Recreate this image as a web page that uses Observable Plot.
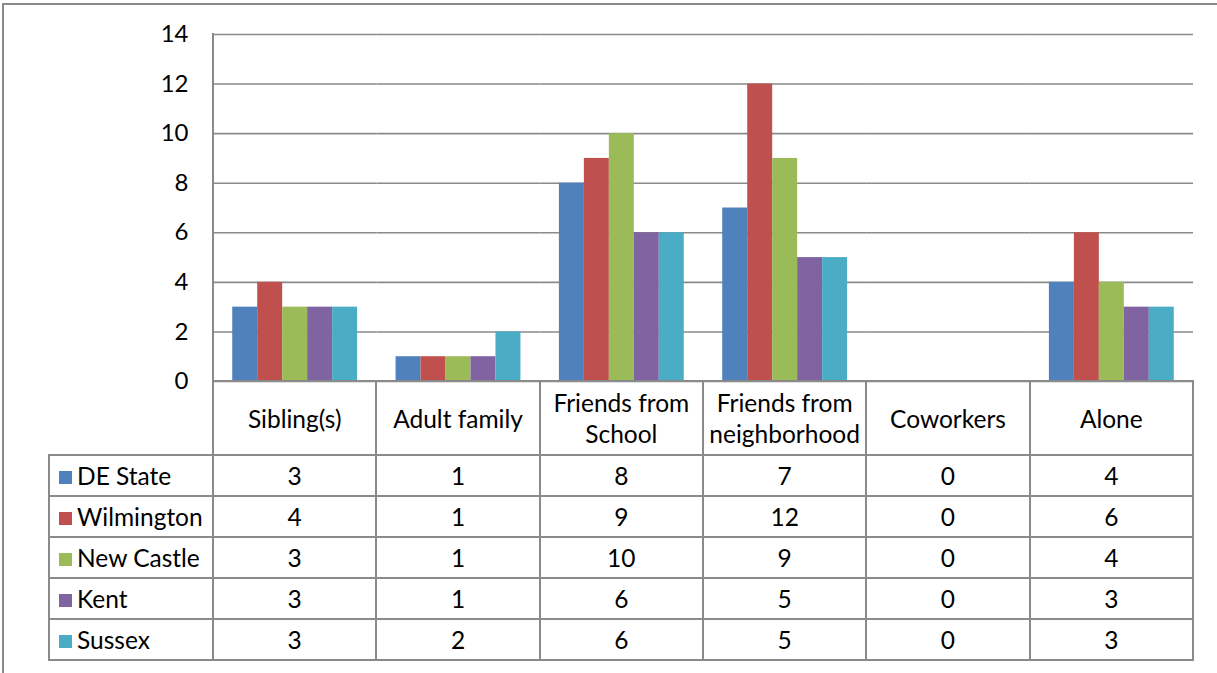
<!DOCTYPE html>
<html>
<head>
<meta charset="utf-8">
<script src="https://cdn.jsdelivr.net/npm/d3@7"></script>
<script src="https://cdn.jsdelivr.net/npm/@observablehq/plot@0.6"></script>
<style>
  html, body { margin: 0; padding: 0; background: #fff; }
  #chart { position: relative; width: 1217px; height: 673px; overflow: hidden; background: #fff; font-family: Lato, "Open Sans", sans-serif; }
  #outer { position: absolute; left: 2px; top: 3px; right: -10px; bottom: -10px; border-left: 2px solid #8a8a8a; border-top: 2px solid #8a8a8a; }
  #plot { position: absolute; left: 0; top: 0; }
  #axisline { position: absolute; left: 212px; top: 33px; width: 0; height: 349px; border-left: 2px solid #8a8a8a; }
  table { position: absolute; left: 48px; top: 380px; border-collapse: collapse; table-layout: fixed; font-size: 24.5px; color: #000; }
  td { border: 2px solid #8a8a8a; text-align: center; padding: 0 2px; line-height: 31px; }
  td.blank { border: none; }
  td.legend { text-align: left; padding-left: 9px; white-space: nowrap; overflow: visible; }
  .sw { display: inline-block; width: 13px; height: 13px; margin-right: 5px; vertical-align: 1px; }
  tr.head td { height: 72px; }
  tr.row td { height: 39px; }
</style>
</head>
<body>
<div id="chart">
  <div id="outer"></div>
</div>
<script>
const series = ["DE State", "Wilmington", "New Castle", "Kent", "Sussex"];
const categories = ["Sibling(s)", "Adult family", "Friends from School", "Friends from neighborhood", "Coworkers", "Alone"];
const deState    = [3, 1, 8, 7, 0, 4];
const wilmington = [4, 1, 9, 12, 0, 6];
const newCastle  = [3, 1, 10, 9, 0, 4];
const kent       = [3, 1, 6, 5, 0, 3];
const sussex     = [3, 2, 6, 5, 0, 3];
const yTicks = [0, 2, 4, 6, 8, 10, 12, 14];
const colors = ["#4F81BD", "#C0504D", "#9BBB59", "#8064A2", "#4BACC6"];

const values = [deState, wilmington, newCastle, kent, sussex];
const data = series.flatMap((s, i) => categories.map((c, j) => ({series: s, category: c, value: values[i][j]})));

const chart = document.getElementById("chart");

const plot = Plot.plot({
  width: 1217,
  height: 390,
  marginTop: 34,
  marginBottom: 9,
  marginLeft: 213,
  marginRight: 24,
  style: {fontFamily: "Lato, 'Open Sans', sans-serif", fontSize: "24px", color: "#000", background: "transparent", overflow: "visible"},
  fx: {domain: categories, padding: 0, axis: null, label: null, round: false},
  x: {domain: series, paddingInner: 0, paddingOuter: 0.77, axis: null, round: false},
  y: {domain: [0, 14], label: null},
  color: {domain: series, range: colors},
  marks: [
    Plot.gridY(yTicks, {stroke: "#8a8a8a", strokeOpacity: 1, strokeWidth: 1.6}),
    Plot.barY(data, {fx: "category", x: "series", y: "value", fill: "series"}),
    Plot.axisY(yTicks, {tickSize: 0, tickPadding: 25, fontSize: 24, label: null})
  ]
});
plot.id = "plot";
chart.appendChild(plot);

const axisLine = document.createElement("div");
axisLine.id = "axisline";
chart.appendChild(axisLine);

// data table
const table = d3.select(chart).append("table");
const cg = table.append("colgroup");
cg.append("col").style("width", "164px");
categories.forEach(() => cg.append("col").style("width", (980 / 6) + "px"));
const head = table.append("tr").attr("class", "head");
head.append("td").attr("class", "blank");
categories.forEach(c => head.append("td").text(c));
series.forEach((s, i) => {
  const tr = table.append("tr").attr("class", "row");
  const lg = tr.append("td").attr("class", "legend");
  lg.append("span").attr("class", "sw").style("background", colors[i]);
  lg.append("span").text(s);
  values[i].forEach(v => tr.append("td").text(v));
});
</script>
</body>
</html>
